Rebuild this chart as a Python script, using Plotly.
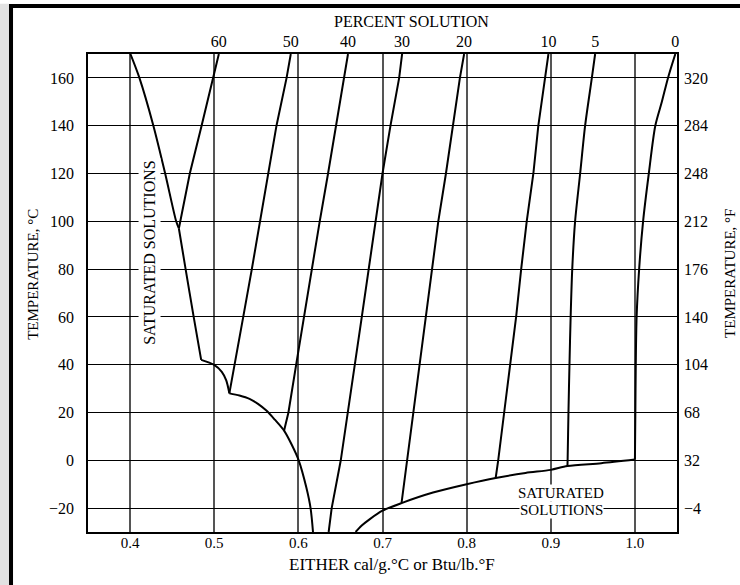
import plotly.graph_objects as go

# ---------------- data ----------------
temp_c_ticks = [-20, 0, 20, 40, 60, 80, 100, 120, 140, 160]
temp_c_labels = ["\u221220", "0", "20", "40", "60", "80", "100", "120", "140", "160"]
temp_f_ticks = [-4, 32, 68, 104, 140, 176, 212, 248, 284, 320]
temp_f_labels = ["\u22124", "32", "68", "104", "140", "176", "212", "248", "284", "320"]
x_ticks = [0.4, 0.5, 0.6, 0.7, 0.8, 0.9, 1.0]
x_labels = ["0.4", "0.5", "0.6", "0.7", "0.8", "0.9", "1.0"]

percent_labels = ["60", "50", "40", "30", "20", "10", "5", "0"]

# specific heat (x) vs temperature °C (t) for each percent solution, bottom -> top
p60_x = [0.458, 0.471, 0.485, 0.499, 0.5055]
p60_t = [97, 120, 140, 160, 170]

p50_x = [0.518, 0.5244, 0.5345, 0.5447, 0.5545, 0.564, 0.574, 0.586, 0.591]
p50_t = [28, 40, 60, 80, 100, 120, 140, 160, 170]

p40_x = [0.583, 0.5882, 0.5974, 0.6066, 0.6158, 0.6254, 0.6353, 0.6447, 0.6548, 0.659]
p40_t = [12.4, 20, 40, 60, 80, 100, 120, 140, 160, 170]

p30_x = [0.636, 0.6396, 0.6504, 0.659, 0.6672, 0.6754, 0.6836, 0.6918, 0.700, 0.7095, 0.7198, 0.7233]
p30_t = [-30, -20, 0, 20, 40, 60, 80, 100, 120, 140, 160, 170]

p20_x = [0.7226, 0.7293, 0.7369, 0.7445, 0.7522, 0.7588, 0.7663, 0.7754, 0.7833, 0.792, 0.797]
p20_t = [-17.9, 0, 20, 40, 60, 80, 100, 120, 140, 160, 170]

p10_x = [0.8345, 0.8375, 0.8446, 0.8517, 0.8588, 0.8648, 0.8714, 0.8793, 0.8852, 0.8932, 0.8972]
p10_t = [-7.4, 0, 20, 40, 60, 80, 100, 120, 140, 160, 170]

p5_x = [0.9198, 0.920, 0.921, 0.9222, 0.9236, 0.9255, 0.9289, 0.9349, 0.9408, 0.9488, 0.9527]
p5_t = [-2.4, 0, 20, 40, 60, 80, 100, 120, 140, 160, 170]

p0_x = [1.0, 1.0005, 1.001, 1.002, 1.005, 1.0097, 1.0165, 1.0242, 1.032, 1.0393, 1.048]
p0_t = [0.3, 20, 40, 60, 80, 100, 120, 140, 150, 160, 170]

# saturated-solution boundary (left), in segments top -> bottom
sat1_x = [0.4004, 0.4111, 0.4277, 0.4417, 0.4548, 0.458]
sat1_t = [170, 160, 140, 120, 100, 97]
sat2_x = [0.458, 0.466, 0.4756, 0.4845]
sat2_t = [97, 80, 60, 42]
sat3_x = [0.4845, 0.4995, 0.509, 0.5143, 0.518]
sat3_t = [42, 40, 37, 33.4, 28]
sat4_x = [0.518, 0.530, 0.542, 0.552, 0.562, 0.572, 0.583, 0.592, 0.6004, 0.6095, 0.6146, 0.6174]
sat4_t = [28, 27.1, 25.7, 23.6, 20.8, 17, 12.4, 6.6, 0, -11.4, -20.2, -30]

# saturated-solution boundary (lower right)
satb_x = [0.668, 0.675, 0.685, 0.700, 0.7226, 0.760, 0.800, 0.8345, 0.870, 0.900, 0.9198, 0.960, 1.0]
satb_t = [-30, -27.4, -24.6, -21.1, -17.9, -13.5, -10.0, -7.4, -5.3, -4.0, -2.4, -1.2, 0.3]

straight_curves = [(p60_x, p60_t), (p50_x, p50_t), (p40_x, p40_t), (p30_x, p30_t),
                   (p20_x, p20_t), (p10_x, p10_t)]
pct_curves = straight_curves + [(p5_x, p5_t), (p0_x, p0_t)]
smooth_curves = [(p5_x, p5_t), (p0_x, p0_t), (sat1_x, sat1_t), (sat2_x, sat2_t),
                 (sat3_x, sat3_t), (sat4_x, sat4_t), (satb_x, satb_t)]

# ---------------- figure ----------------
FONT = "Liberation Serif, Times New Roman, serif"
fig = go.Figure()

for xs, ts in straight_curves:
    fig.add_trace(go.Scatter(x=xs, y=ts, mode="lines",
                             line=dict(color="black", width=2),
                             showlegend=False, hoverinfo="skip"))
for xs, ts in smooth_curves:
    fig.add_trace(go.Scatter(x=xs, y=ts, mode="lines",
                             line=dict(color="black", width=2, shape="spline", smoothing=0.8),
                             showlegend=False, hoverinfo="skip"))

# invisible helper trace so the secondary axes are drawn
fig.add_trace(go.Scatter(x=[None], y=[None], xaxis="x2", yaxis="y2",
                         mode="lines", showlegend=False, hoverinfo="skip"))

top_positions = [c[0][-1] for c in pct_curves]

fig.update_layout(
    width=740, height=585,
    margin=dict(l=88, r=63, t=54, b=53),
    paper_bgcolor="white", plot_bgcolor="white",
    font=dict(family=FONT, size=16, color="black"),
    xaxis=dict(range=[0.35, 1.05], tickvals=x_ticks, ticktext=x_labels,
               showgrid=True, gridcolor="#555555", gridwidth=1.5,
               zeroline=False, showline=True, mirror=True, linecolor="black",
               linewidth=1.5, ticks="", ticklabelstandoff=-4, tickfont=dict(size=15)),
    yaxis=dict(range=[-30, 170], tickvals=temp_c_ticks, ticktext=temp_c_labels,
               showgrid=True, gridcolor="black", gridwidth=1.2,
               zeroline=False, showline=True, mirror=True, linecolor="black",
               linewidth=1.5, ticks="", ticklabelstandoff=9),
    xaxis2=dict(range=[0.35, 1.05], overlaying="x", side="top", anchor="y",
                tickvals=top_positions, ticktext=percent_labels,
                showgrid=False, zeroline=False, showline=False, ticks="",
                ticklabelstandoff=3),
    yaxis2=dict(range=[-22, 338], overlaying="y", side="right", anchor="x",
                tickvals=temp_f_ticks, ticktext=temp_f_labels,
                showgrid=False, zeroline=False, showline=False, ticks="",
                ticklabelstandoff=6),
)

ann = dict(showarrow=False, xanchor="center", yanchor="middle")
# axis titles as annotations (paper coordinates)
fig.add_annotation(text="PERCENT SOLUTION", xref="paper", yref="paper",
                   x=0.550, y=1.067, font=dict(size=16), **ann)
fig.add_annotation(text="EITHER cal/g.\u00b0C or Btu/lb.\u00b0F", xref="paper", yref="paper",
                   x=0.5156, y=-0.067, font=dict(size=17), **ann)
fig.add_annotation(text="TEMPERATURE, \u00b0C", xref="paper", yref="paper",
                   x=-0.0934, y=0.54, textangle=-90, font=dict(size=15), **ann)
fig.add_annotation(text="TEMPERATURE, \u00b0F", xref="paper", yref="paper",
                   x=1.090, y=0.54, textangle=-90, font=dict(size=15), **ann)

# in-plot labels
fig.add_annotation(text="SATURATED SOLUTIONS", x=0.423, y=87, textangle=-90,
                   bgcolor="white", borderpad=2, font=dict(size=16), **ann)
fig.add_annotation(text="SATURATED", x=0.9122, y=-17.4, yshift=8.5,
                   bgcolor="white", borderpad=0, font=dict(size=15), **ann)
fig.add_annotation(text="SOLUTIONS", x=0.9122, y=-17.4, yshift=-8.5,
                   bgcolor="white", borderpad=0, font=dict(size=15), **ann)

# page border decoration (left strip and top rule)
fig.add_shape(type="rect", xref="paper", yref="paper", x0=-0.1494, x1=-0.1341,
              y0=-0.111, y1=1.105, fillcolor="#e2e2e2", line_width=0, layer="below")
fig.add_shape(type="rect", xref="paper", yref="paper", x0=-0.1341, x1=-0.1273,
              y0=-0.111, y1=1.1046, fillcolor="black", line_width=0)
fig.add_shape(type="rect", xref="paper", yref="paper", x0=-0.1341, x1=1.11,
              y0=1.0962, y1=1.1046, fillcolor="black", line_width=0)

fig.write_html("out.html", config={"displayModeBar": False},
               post_script="document.body.style.margin='0px';document.body.style.overflow='hidden';")
